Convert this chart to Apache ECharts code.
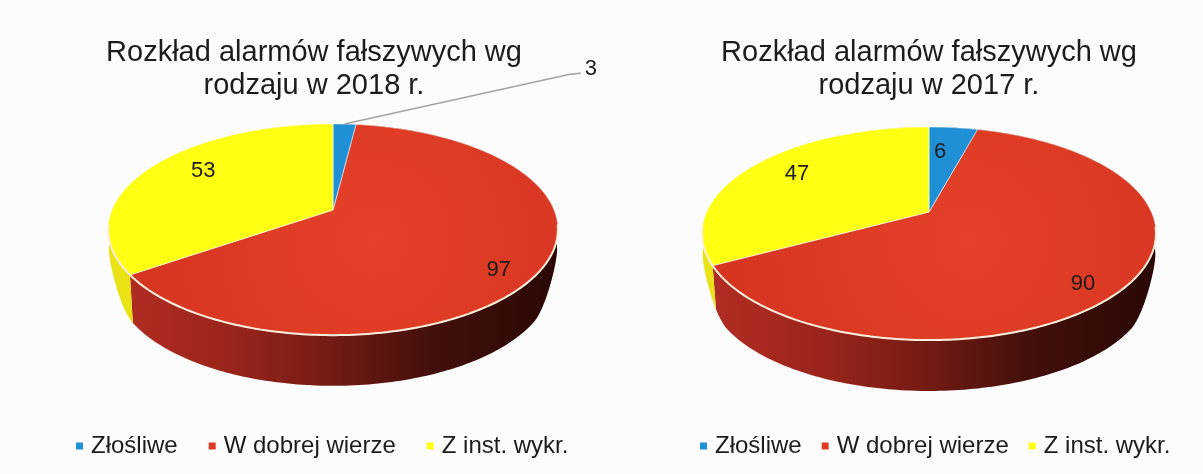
<!DOCTYPE html>
<html><head><meta charset="utf-8">
<style>html,body{margin:0;padding:0;background:#fdfcfc}#c{width:1203px;height:474px}</style>
<script src="https://cdn.jsdelivr.net/npm/echarts@6/dist/echarts.min.js"></script>
</head><body><div id="c"></div>
<script>
const categories = ['Złośliwe', 'W dobrej wierze', 'Z inst. wykr.'];
const values2018 = [3, 97, 53];
const values2017 = [6, 90, 47];
const titleLines2018 = 'Rozkład alarmów fałszywych wg\nrodzaju w 2018 r.';
const titleLines2017 = 'Rozkład alarmów fałszywych wg\nrodzaju w 2017 r.';
const topColors = ['#1f8fd6', '#e03a22', '#ffff14'];
const sideColors = ['#15609a', null, '#e9e214'];
const FONT = '"Liberation Sans", Arial, sans-serif';
const INK = '#1c1c1c';

// perspective projection of the pie discs, and polar label anchors (degrees clockwise from 12 o'clock, radius factor)
const pies = [
  {values: values2018, title: titleLines2018, titleX: 314, legendX: 76, legendGap: 31,
   cx: 333, cy: 210, top: {A: 221, B: 102, p: 0.185, dy: 0}, mid: {A: 220, B: 101, p: 0.19, dy: 20},
   bottom: {A: 213, B: 99.7, p: 0.22, dy: 48},
   labels: [[39.8, 2.46, true], [127.2, 0.852], [304.4, 0.769]]},
  {values: values2017, title: titleLines2017, titleX: 929, legendX: 700, legendGap: 20,
   cx: 929, cy: 212, top: {A: 222.3, B: 102.2, p: 0.202, dy: 0}, mid: {A: 221.3, B: 100.5, p: 0.21, dy: 21},
   bottom: {A: 214.6, B: 98, p: 0.23, dy: 51.7},
   labels: [[4.66, 0.694], [134.7, 0.856], [303.4, 0.772]]}
];

function project(pie, disc, deg, f) {
  const a = deg * Math.PI / 180, u = Math.sin(a) * f, v = Math.cos(a) * f, w = 1 + disc.p * v;
  return [pie.cx + disc.A * u / w, pie.cy + disc.dy - disc.B * v / w];
}
function sliceRange(values, i) {
  const sum = values.reduce((s, x) => s + x, 0);
  const before = values.slice(0, i).reduce((s, x) => s + x, 0);
  return [before / sum * 360, (before + values[i]) / sum * 360];
}
function arc(pie, disc, from, to) {
  const pts = [], n = Math.max(2, Math.ceil(to - from));
  for (let k = 0; k <= n; k++) pts.push(project(pie, disc, from + (to - from) * k / n, 1));
  return pts;
}
// lower outline of the pie's side wall: hugs the rim near the silhouette tangents, then settles on the bottom disc
function lowerPoint(pie, deg) {
  const tangent = Math.acos(-pie.top.p) * 180 / Math.PI;
  const off = deg <= 180 ? deg - tangent : (360 - tangent) - deg;
  const x = Math.min(1, Math.max(0, off / 24)), t = x * x * (3 - 2 * x);
  const a = project(pie, pie.mid, deg, 1), b = project(pie, pie.bottom, deg, 1);
  return [a[0] + (b[0] - a[0]) * t, a[1] + (b[1] - a[1]) * t];
}
function lowerArc(pie, from, to) {
  const pts = [], n = Math.max(2, Math.ceil(to - from));
  for (let k = 0; k <= n; k++) pts.push(lowerPoint(pie, from + (to - from) * k / n));
  return pts;
}

function sideSeries(pie) {
  return {
    type: 'custom', coordinateSystem: 'none', silent: true, z: 1, name: 'side',
    data: pie.values,
    renderItem(params) {
      const i = params.dataIndex, [s, e] = sliceRange(pie.values, i);
      const fill = sideColors[i] || new echarts.graphic.LinearGradient(pie.cx - 205, 0, pie.cx + 225, 0, [
        {offset: 0, color: '#b02c22'}, {offset: 0.25, color: '#98241b'},
        {offset: 0.5, color: '#6e1a13'}, {offset: 0.7, color: '#44100c'},
        {offset: 1, color: '#2a0805'}], true);
      const pts = arc(pie, pie.top, s, e).concat(lowerArc(pie, s, e).reverse());
      return {type: 'polygon', shape: {points: pts}, style: {fill: fill}};
    }
  };
}

function topSeries(pie, idx) {
  return {
    type: 'custom', coordinateSystem: 'none', silent: true, z: 2 + (idx === 1 ? 0 : 1),
    name: categories[idx], itemStyle: {color: topColors[idx]},
    data: [pie.values[idx]],
    renderItem() {
      const [s, e] = sliceRange(pie.values, idx);
      const fill = idx === 1
        ? new echarts.graphic.RadialGradient(pie.cx + 40, pie.cy + 30, 240, [
            {offset: 0, color: '#e6412a'}, {offset: 1, color: '#d63520'}], true)
        : topColors[idx];
      const children = [{
        type: 'polygon',
        shape: {points: [project(pie, pie.top, s, 0)].concat(arc(pie, pie.top, s, e))},
        style: {fill: fill, stroke: 'rgba(255,255,255,0.55)', lineWidth: 1, lineJoin: 'round'}
      }];
      const rimFrom = Math.max(s, 98), rimTo = Math.min(e, 262);
      if (rimTo > rimFrom) {
        children.push({type: 'polyline', shape: {points: arc(pie, pie.top, rimFrom, rimTo)},
          style: {fill: null, stroke: '#fbeedc', lineWidth: 2}});
      }
      const lab = pie.labels[idx];
      const at = project(pie, pie.top, lab[0], lab[1]);
      if (lab[2]) {
        const mid = (s + e) / 2, start = project(pie, pie.top, mid, 1);
        children.push({type: 'polyline',
          shape: {points: [start, [at[0] - 21, at[1] + 7], [at[0] - 10, at[1] + 6]]},
          style: {fill: null, stroke: '#a3a3a3', lineWidth: 1.5}});
      }
      children.push({type: 'text', x: at[0], y: at[1] + 2, z2: 10, style: {
        text: String(pie.values[idx]), fill: INK, font: '22px ' + FONT, align: 'center', verticalAlign: 'middle'}});
      return {type: 'group', children: children};
    }
  };
}

const series = [];
pies.forEach(pie => {
  series.push(sideSeries(pie));
  categories.forEach((c, i) => series.push(topSeries(pie, i)));
});

const chart = echarts.init(document.getElementById('c'), null, {renderer: 'canvas'});
chart.setOption({
  animation: false,
  backgroundColor: '#fdfcfc',
  title: pies.map(pie => ({
    text: pie.title, left: pie.titleX, top: 36, textAlign: 'center', padding: 0,
    textStyle: {fontFamily: FONT, fontSize: 29, fontWeight: 'normal', color: INK, lineHeight: 33}
  })),
  legend: pies.map(pie => ({
    data: categories, left: pie.legendX, top: 434, orient: 'horizontal', padding: 0,
    icon: 'rect', itemWidth: 7, itemHeight: 7, itemGap: pie.legendGap, selectedMode: false,
    textStyle: {fontFamily: FONT, fontSize: 24, color: INK, padding: [0, 0, 0, 3]}
  })),
  series: series
});
</script></body></html>
